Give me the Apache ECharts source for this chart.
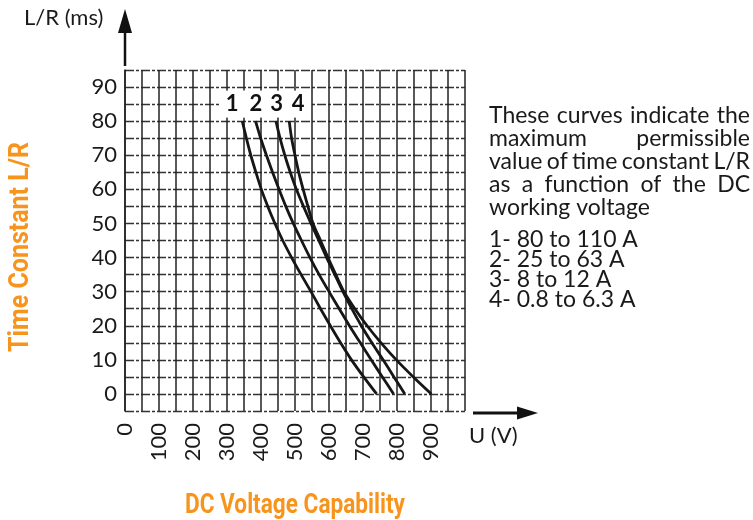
<!DOCTYPE html>
<html>
<head>
<meta charset="utf-8">
<title>L/R vs DC voltage</title>
<script src="https://cdn.jsdelivr.net/npm/echarts@6/dist/echarts.min.js"></script>
<style>
  html, body { margin: 0; padding: 0; background: #fff; }
  #chart { width: 753px; height: 520px; }
</style>
</head>
<body>
<div id="chart"></div>
<script>
const lrLevels = [80, 75, 70, 65, 60, 55, 50, 45, 40, 35, 30, 25, 20, 15, 10, 5, 0]

// voltage (V) of each curve at those levels
const curve1Volts = [345, 357, 370, 385, 401, 420, 441, 464, 490, 518, 547, 575, 604, 634, 666, 702, 740]
const curve2Volts = [384, 399, 416, 434, 453, 473, 495, 519, 544, 571, 600, 630, 660, 692, 724, 757, 790]
const curve3Volts = [444, 456, 470, 486, 504, 525, 547, 570, 593, 617, 641, 667, 695, 726, 759, 791, 823]
const curve4Volts = [483, 490, 500, 511, 524, 538, 553, 575, 597, 620, 644, 676, 712, 753, 798, 848, 901]

// curve numbers written above the curves
const curveNames = ['1', '2', '3', '4']
const curveLabelVolts = [315, 385, 446, 509]
const curveLabelLevel = 85

// note text on the right
const noteLines = [
  'These curves indicate the',
  'maximum permissible',
  'value of time constant L/R',
  'as a function of the DC',
  'working voltage'
]
const rangeLines = [
  '1- 80 to 110 A',
  '2- 25 to 63 A',
  '3- 8 to 12 A',
  '4- 0.8 to 6.3 A'
]

const FONT = 'Lato, "DejaVu Sans", sans-serif'
const TITLE_FONT = 'bold 28px Roboto, "Liberation Sans", sans-serif'
const ORANGE = '#f7941d'

const ctx = document.createElement('canvas').getContext('2d')
const textWidth = (text, font) => { ctx.font = font; return ctx.measureText(text).width }

// justified paragraph: every line but the last is spread to the block width
const noteFont = '23px ' + FONT
const noteLeft = 489
const noteWidth = 261
const noteTop = 104
const noteLead = 23
const noteGraphics = []
noteLines.forEach((line, i) => {
  const words = line.split(' ')
  const y = noteTop + i * noteLead
  if (i === noteLines.length - 1) {
    noteGraphics.push({ type: 'text', x: noteLeft, y: y, style: { text: line, font: noteFont, fill: '#1a1a1a' } })
    return
  }
  const widths = words.map(w => textWidth(w, noteFont))
  const gap = (noteWidth - widths.reduce((a, b) => a + b, 0)) / (words.length - 1)
  let x = noteLeft
  words.forEach((w, k) => {
    noteGraphics.push({ type: 'text', x: x, y: y, style: { text: w, font: noteFont, fill: '#1a1a1a' } })
    x += widths[k] + gap
  })
})

// condensed bold titles: squeeze to the width they take in the picture
const yTitle = 'Time Constant L/R'
const xTitle = 'DC Voltage Capability'
const yTitleScale = 210 / textWidth(yTitle, TITLE_FONT)
const xTitleScale = 220 / textWidth(xTitle, TITLE_FONT)

const chart = echarts.init(document.getElementById('chart'))

const allCurves = [curve1Volts, curve2Volts, curve3Volts, curve4Volts]
const lineSeries = allCurves.map((volts, i) => ({
  name: curveNames[i],
  type: 'line',
  smooth: 0.3,
  symbol: 'none',
  data: volts.map((v, k) => [v, lrLevels[k]]),
  lineStyle: { color: '#161616', width: 2.8 },
  z: 3
}))

const option = {
  animation: false,
  backgroundColor: '#fff',
  grid: { left: 125, top: 70, width: 340, height: 341 },
  xAxis: {
    type: 'value',
    min: 0,
    max: 1000,
    interval: 50,
    axisLine: { show: false },
    axisTick: { show: false },
    axisLabel: {
      rotate: 90,
      margin: 12,
      fontFamily: FONT,
      fontSize: 22,
      color: '#1a1a1a',
      formatter: v => (v % 100 === 0 && v < 1000 ? String(v) : '')
    },
    splitLine: { lineStyle: { color: '#222', width: 1.5 } }
  },
  yAxis: {
    type: 'value',
    min: -5,
    max: 95,
    interval: 5,
    axisLine: { show: true, lineStyle: { color: '#222', width: 1.5 } },
    axisTick: { show: false },
    axisLabel: {
      margin: 8,
      fontFamily: FONT,
      fontSize: 22,
      color: '#1a1a1a',
      formatter: v => (v % 10 === 0 && v >= 0 && v <= 90 ? String(v) : '')
    },
    splitLine: { lineStyle: { color: '#333', width: 1.3, type: [9, 2, 3, 2] } }
  },
  series: [
    ...lineSeries,
    {
      type: 'scatter',
      symbol: 'rect',
      symbolSize: 1,
      silent: true,
      itemStyle: { color: '#fff', opacity: 1 },
      data: curveLabelVolts.map((v, i) => ({ value: [v, curveLabelLevel], name: curveNames[i] })),
      label: {
        show: true,
        position: 'inside',
        formatter: p => p.name,
        fontFamily: FONT,
        fontSize: 22,
        fontWeight: 'bold',
        color: '#111',
        opacity: 1,
        textBorderWidth: 0,
        backgroundColor: '#fff',
        padding: [3, 6, 2, 6]
      },
      z: 4
    }
  ],
  graphic: [
    // y arrow
    { type: 'line', shape: { x1: 125, y1: 66, x2: 125, y2: 30 }, style: { stroke: '#111', lineWidth: 2.5 } },
    { type: 'polygon', shape: { points: [[125, 9], [118, 33], [132, 33]] }, style: { fill: '#111' } },
    // x arrow
    { type: 'line', shape: { x1: 473, y1: 413, x2: 520, y2: 413 }, style: { stroke: '#111', lineWidth: 3 } },
    { type: 'polygon', shape: { points: [[538, 413], [517, 406.5], [517, 419.5]] }, style: { fill: '#111' } },
    { type: 'text', x: 24, y: 7, style: { text: 'L/R (ms)', font: '22px ' + FONT, fill: '#1a1a1a' } },
    { type: 'text', x: 469, y: 425, style: { text: 'U (V)', font: '22px ' + FONT, fill: '#1a1a1a' } },
    ...noteGraphics,
    {
      type: 'text', x: 489, y: 230,
      style: { text: rangeLines.join('\n'), font: '23px ' + FONT, fill: '#1a1a1a', lineHeight: 20 }
    },
    // axis titles
    {
      type: 'text', x: 21, y: 247, rotation: Math.PI / 2, scaleX: yTitleScale,
      style: { text: yTitle, fill: ORANGE, align: 'center', verticalAlign: 'middle', font: TITLE_FONT }
    },
    {
      type: 'text', x: 295, y: 506, scaleX: xTitleScale,
      style: { text: xTitle, fill: ORANGE, align: 'center', verticalAlign: 'middle', font: TITLE_FONT }
    }
  ]
}

chart.setOption(option)
</script>
</body>
</html>
